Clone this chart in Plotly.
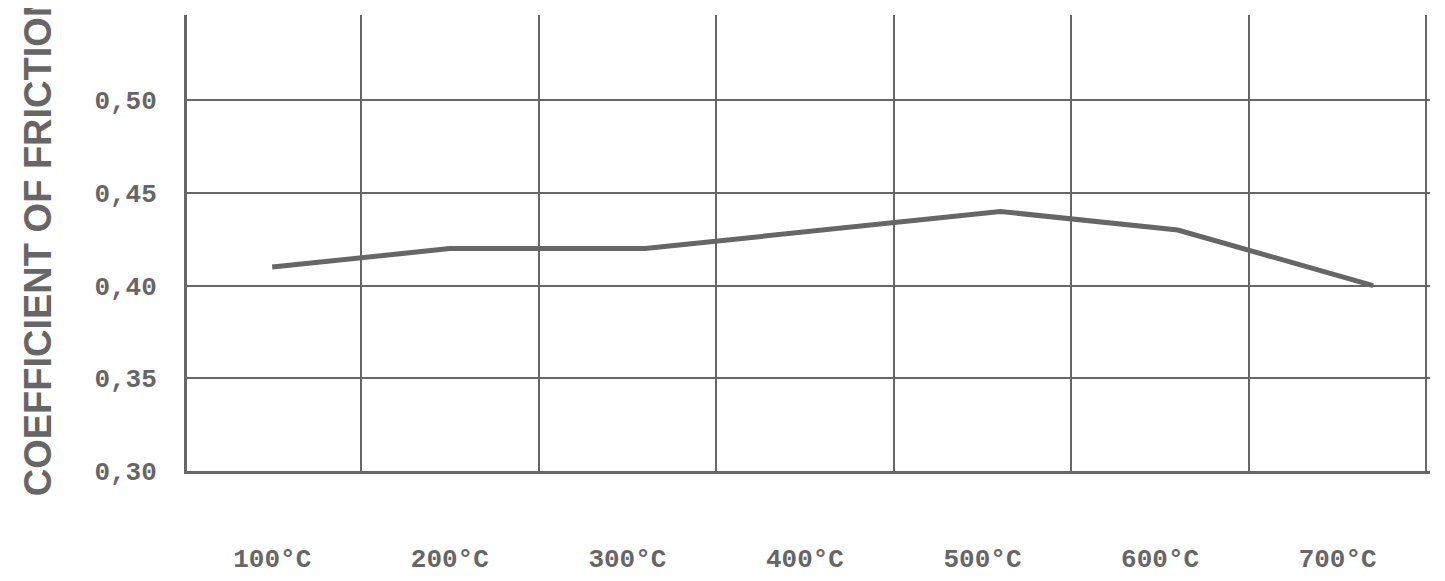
import plotly.graph_objects as go

temps = [100, 200, 310, 510, 610, 720]
friction = [0.41, 0.42, 0.42, 0.44, 0.43, 0.40]
label_vals = [100, 200, 300, 400, 500, 600, 700]
label_text = ["100°C", "200°C", "300°C", "400°C", "500°C", "600°C", "700°C"]
y_ticks = [0.30, 0.35, 0.40, 0.45, 0.50]

GREY = "#666666"

fig = go.Figure(go.Scatter(
    x=temps, y=friction, mode="lines",
    line=dict(color=GREY, width=5), showlegend=False,
))

fig.update_layout(
    width=1445, height=581,
    margin=dict(l=179, r=23, t=7, b=118),
    plot_bgcolor="white", paper_bgcolor="white",
    separators=",.",
    font=dict(family="Liberation Mono", size=26, color=GREY, weight="bold"),
)
fig.update_xaxes(
    range=[52, 752], tickvals=label_vals, ticktext=label_text,
    showgrid=False, zeroline=False,
    ticks="outside", ticklen=62, tickcolor="rgba(0,0,0,0)",
    showline=True, linecolor=GREY, linewidth=3,
    minor=dict(tick0=150, dtick=100, showgrid=True, gridcolor=GREY, gridwidth=2),
)
fig.update_yaxes(
    range=[0.3, 0.546], tickvals=y_ticks, tickformat=".2f",
    showgrid=True, gridcolor=GREY, gridwidth=2, zeroline=False,
    ticks="outside", ticklen=22, tickcolor="rgba(0,0,0,0)",
    showline=True, linecolor=GREY, linewidth=3,
    title=dict(text="<b>COEFFICIENT OF FRICTION</b>", standoff=32,
               font=dict(family="Liberation Sans", size=38, color=GREY)),
)

fig.write_html("out.html")
